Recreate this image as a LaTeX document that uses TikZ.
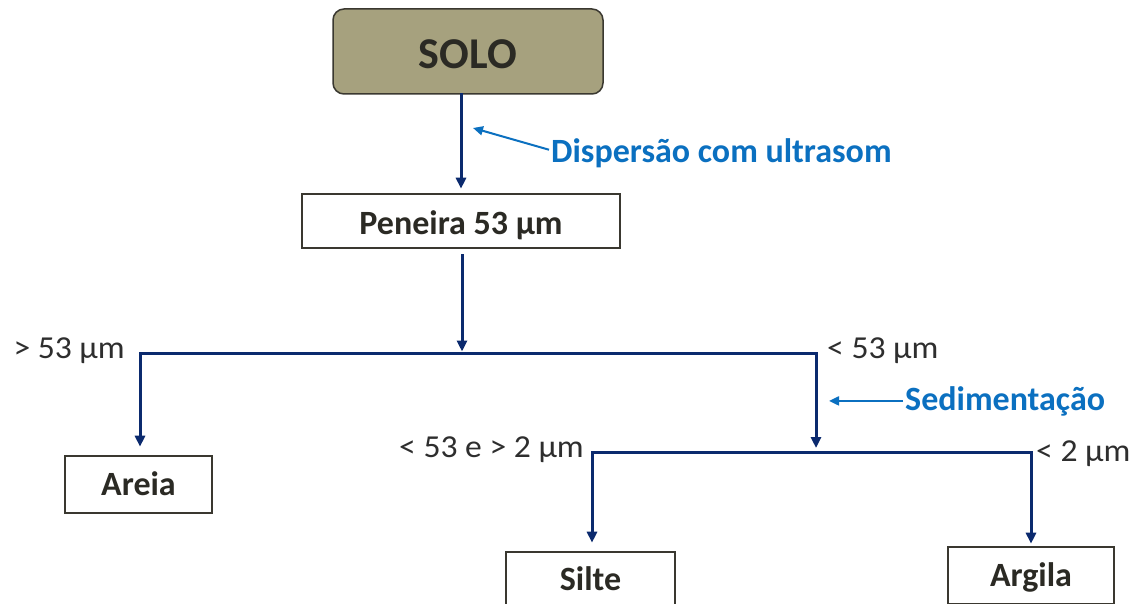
\documentclass[tikz,border=0pt]{standalone}
\usepackage{fontspec}
\setmainfont{Carlito}
\newfontfamily\labfont[FakeStretch=1.05]{Carlito}
\usetikzlibrary{arrows.meta}
\definecolor{navy}{HTML}{0B2A6E}
\definecolor{bluetxt}{HTML}{0B70C0}
\definecolor{soloFill}{HTML}{A6A17E}
\definecolor{boxline}{HTML}{3A3830}
\definecolor{txtdark}{HTML}{2B2A24}
\definecolor{labgray}{HTML}{2E2E2E}
\begin{document}
\begin{tikzpicture}[x=1pt,y=-1pt,
 box/.style={draw=boxline, line width=2.6pt, fill=white, inner sep=0pt, text height=22pt, text depth=0pt, font=\fontsize{34}{36}\selectfont\bfseries, text=txtdark},
 solobox/.style={draw=boxline, line width=1.5pt, fill=soloFill, rounded corners=11pt, inner sep=0pt, text height=35pt, text depth=0pt, font=\fontsize{44}{48}\selectfont\bfseries, text=txtdark},
 flow/.style={draw=navy, line width=3pt, line cap=rect},
 flowarr/.style={flow, -{Triangle[length=11pt,width=10pt]}},
 lab/.style={font=\labfont\fontsize{32}{34}\selectfont, text=labgray, inner sep=0pt},
 note/.style={font=\fontsize{34}{38}\selectfont\bfseries, text=bluetxt, inner sep=2pt},
 notearr/.style={draw=bluetxt, line width=2pt, -{Triangle[length=10pt,width=9pt]}}
]
\useasboundingbox (0,0) rectangle (1142,604);
\clip (0,0) rectangle (1142,604);
\fill[white] (0,0) rectangle (1142,604);

% boxes
\node[solobox, minimum width=270pt, minimum height=85pt] (solo) at (468,51.5) {SOLO};
\node[box, text height=26pt, minimum width=318pt, minimum height=54pt] (pen) at (461,221) {Peneira 53 μm};
\node[box, minimum width=147pt, minimum height=57pt] (areia) at (138.5,484.5) {Areia};
\node[box, text height=19pt, minimum width=169pt, minimum height=57pt] (silte) at (590.5,580.5) {Silte};
\node[box, minimum width=166pt, minimum height=57pt] (argila) at (1031,575.5) {Argila};

% junction coordinates
\coordinate (S1) at (462,353.5);
\coordinate (L1) at (140,353.5);
\coordinate (R1) at (816,353.5);
\coordinate (S2) at (816,452);
\coordinate (L2) at (592,452);
\coordinate (R2) at (1031,452);

% connectors
\draw[flowarr, shorten >=4pt] (pen.north |- solo.south) -- (pen.north);
\draw[flowarr, shorten <=6pt, shorten >=2pt] (S1 |- pen.south) -- (S1);
\draw[flowarr, shorten >=8pt] (R1) -- (L1) -- (L1 |- areia.north);
\draw[flowarr, shorten >=4pt] (R1) -- (S2);
\draw[flowarr, shorten >=8pt] (R2) -- (L2) -- (L2 |- silte.north);
\draw[flowarr, shorten >=2pt] (R2) -- (R2 |- argila.north);

% labels
\node[lab, anchor=base east] (l1) at (125,358) {> 53 μm};
\node[lab, anchor=base west] (l2) at (827,358) {< 53 μm};
\node[lab, anchor=base east] (l3) at (584,457) {< 53 e > 2 μm};
\node[lab, anchor=base west] (l4) at (1036,461) {< 2 μm};

% blue notes
\node[note, anchor=base west] (disp) at (549,163) {Dispersão com ultrasom};
\coordinate (dtip) at (473,128);
\draw[notearr] ([yshift=4pt]disp.west) -- (dtip);
\node[note, anchor=base west] (sed) at (903,410) {Sedimentação};
\coordinate (stip) at (829,401);
\draw[notearr] (sed.west) -- (sed.west -| stip);
\end{tikzpicture}
\end{document}
